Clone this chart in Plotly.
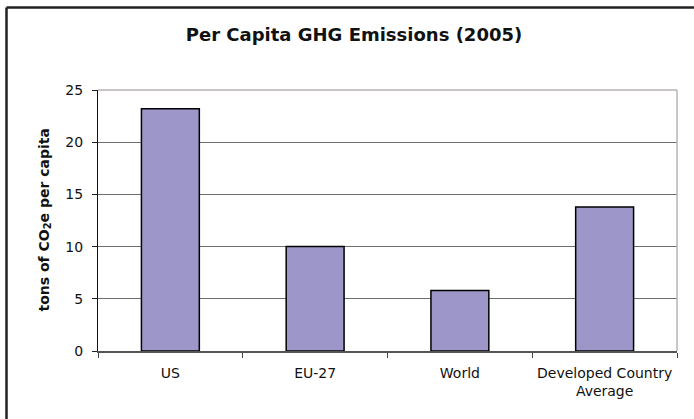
import plotly.graph_objects as go

# Per capita greenhouse-gas emissions, 2005 (tons CO2e per person)
regions = ["US", "EU-27", "World", "Developed Country<br>Average"]
emissions = [23.2, 10.0, 5.8, 13.8]
y_ticks = [0, 5, 10, 15, 20, 25]

W, H = 694, 419
ML, MR, MT, MB = 98, 17, 90, 68
PW, PH = W - ML - MR, H - MT - MB


def px_to_paper_x(px):
    return (px - ML) / PW


def px_to_paper_y(py):
    return (H - MB - py) / PH


FONT = "DejaVu Sans, Arial, sans-serif"

fig = go.Figure(
    go.Bar(
        x=regions,
        y=emissions,
        marker=dict(color="#9d97c9", line=dict(color="#000000", width=1.5)),
        hoverinfo="x+y",
    )
)

shapes = [
    # outer chart frame (left and top edges)
    dict(type="line", xref="paper", yref="paper",
         x0=px_to_paper_x(6.5), x1=px_to_paper_x(6.5),
         y0=px_to_paper_y(7.5), y1=px_to_paper_y(H + 5),
         line=dict(color="#222222", width=2.5)),
    dict(type="line", xref="paper", yref="paper",
         x0=px_to_paper_x(6.5), x1=px_to_paper_x(W + 5),
         y0=px_to_paper_y(7.5), y1=px_to_paper_y(7.5),
         line=dict(color="#222222", width=2.5)),
    # plot-area border, top and right
    dict(type="line", xref="paper", yref="paper", x0=0, x1=1, y0=1, y1=1,
         line=dict(color="#b8b3b3", width=1.5)),
    dict(type="line", xref="paper", yref="paper", x0=1, x1=1, y0=0, y1=1,
         line=dict(color="#b8b3b3", width=1.5)),
]

fig.update_layout(
    width=W,
    height=H,
    margin=dict(l=ML, r=MR, t=MT, b=MB, pad=0),
    paper_bgcolor="white",
    plot_bgcolor="white",
    showlegend=False,
    bargap=0.6,
    font=dict(family=FONT, color="#111111", size=14),
    title=dict(
        text="<b>Per Capita GHG Emissions (2005)</b>",
        font=dict(family=FONT, size=18, color="#111111"),
        x=354 / W, xanchor="center",
        y=1 - 35 / H, yanchor="middle",
        xref="container", yref="container",
    ),
    xaxis=dict(
        type="category",
        tickson="boundaries",
        ticks="outside",
        ticklen=5,
        tickcolor="#444444",
        ticklabelstandoff=8,
        showline=True,
        linecolor="#555555",
        linewidth=1.5,
        showgrid=False,
        tickfont=dict(family=FONT, size=14, color="#111111"),
        fixedrange=True,
    ),
    yaxis=dict(
        range=[0, 25],
        tickvals=y_ticks,
        ticks="outside",
        ticklen=5,
        tickcolor="#222222",
        ticklabelstandoff=6,
        showline=True,
        linecolor="#111111",
        linewidth=1.2,
        showgrid=True,
        gridcolor="#6e6e6e",
        gridwidth=1,
        zeroline=False,
        tickfont=dict(family=FONT, size=14, color="#111111"),
        fixedrange=True,
    ),
    shapes=shapes,
    annotations=[
        dict(
            text="<b>tons of CO<sub>2</sub>e per capita</b>",
            xref="paper", yref="paper",
            x=px_to_paper_x(44), y=0.5,
            xanchor="center", yanchor="middle",
            textangle=-90,
            showarrow=False,
            font=dict(family=FONT, size=14, color="#111111"),
        )
    ],
)

fig.write_html("out.html")
